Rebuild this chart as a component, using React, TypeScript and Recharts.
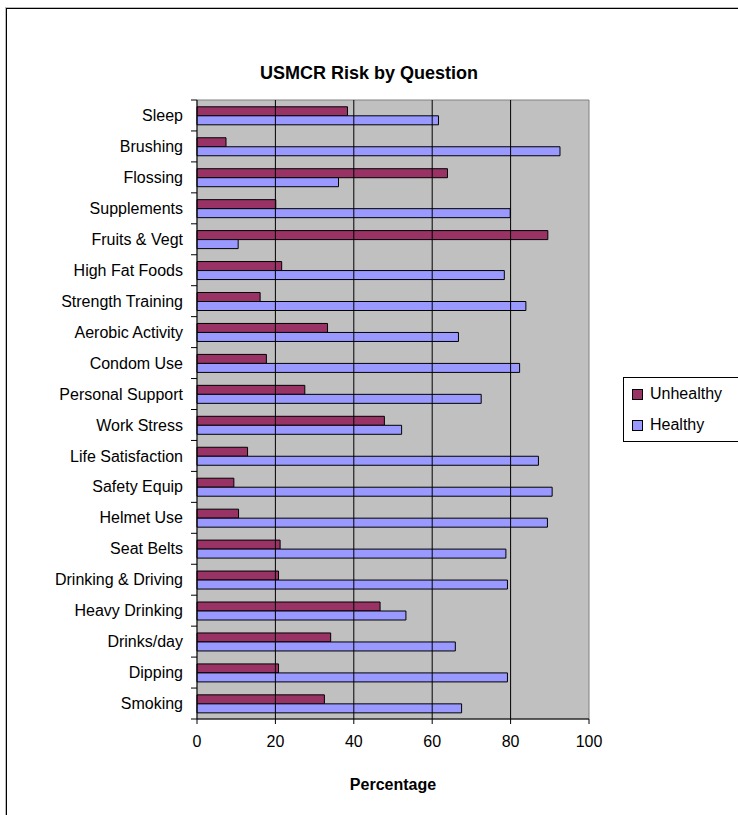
import React from 'react';
import { BarChart, Bar, XAxis, YAxis, CartesianGrid, ReferenceArea, ReferenceLine } from 'recharts';

const questions = [
  'Sleep', 'Brushing', 'Flossing', 'Supplements', 'Fruits & Vegt', 'High Fat Foods',
  'Strength Training', 'Aerobic Activity', 'Condom Use', 'Personal Support', 'Work Stress',
  'Life Satisfaction', 'Safety Equip', 'Helmet Use', 'Seat Belts', 'Drinking & Driving',
  'Heavy Drinking', 'Drinks/day', 'Dipping', 'Smoking',
];
const unhealthy = [38.4, 7.4, 63.9, 20.1, 89.5, 21.6, 16.1, 33.3, 17.7, 27.5, 47.8, 12.9, 9.4, 10.6, 21.2, 20.8, 46.7, 34.1, 20.8, 32.5];
const healthy = [61.6, 92.6, 36.1, 79.9, 10.5, 78.4, 83.9, 66.7, 82.3, 72.5, 52.2, 87.1, 90.6, 89.4, 78.8, 79.2, 53.3, 65.9, 79.2, 67.5];
const percentTicks = [0, 20, 40, 60, 80, 100];
const gridValues = [20, 40, 60, 80];

const SERIES = [
  { key: 'unhealthy', name: 'Unhealthy', color: '#993366' },
  { key: 'healthy', name: 'Healthy', color: '#9999FF' },
];

const data = questions.map((question, i) => ({
  question,
  unhealthy: unhealthy[i],
  healthy: healthy[i],
}));

const FONT = '"Liberation Sans", Arial, Helvetica, sans-serif';
const WIDTH = 738;
const HEIGHT = 815;
const MARGIN = { top: 100, right: 149, bottom: 0, left: 0 };
const Y_AXIS_W = 197;
const X_AXIS_H = 96;
const PLOT_H = HEIGHT - MARGIN.top - MARGIN.bottom - X_AXIS_H;
const BAND = PLOT_H / questions.length;
const LABEL_GAP = 14;

// Category label centred on its band, with Excel-style tick marks on the band edges.
function QuestionTick(props: any) {
  const { x, y, payload, index } = props;
  const axisX = x + LABEL_GAP;
  return (
    <g>
      <line x1={axisX - 6} x2={axisX} y1={y - BAND / 2} y2={y - BAND / 2} stroke="#000" />
      {index === questions.length - 1 && (
        <line x1={axisX - 6} x2={axisX} y1={y + BAND / 2} y2={y + BAND / 2} stroke="#000" />
      )}
      <text x={x} y={y} dy="0.35em" textAnchor="end" fill="#000" fontSize={16} fontFamily={FONT}>
        {payload.value}
      </text>
    </g>
  );
}

export default function App() {
  return (
    <div
      style={{
        position: 'absolute',
        left: 0,
        top: 0,
        width: WIDTH,
        height: HEIGHT,
        overflow: 'hidden',
        background: '#fff',
        fontFamily: FONT,
      }}
    >
      <div
        style={{
          position: 'absolute',
          left: 6,
          top: 8,
          width: 900,
          height: 1000,
          borderLeft: '1px solid #000',
          borderTop: '1px solid #000',
          boxShadow: '-1px -1px 0 #bbb',
        }}
      />
      <div
        style={{
          position: 'absolute',
          left: 0,
          width: WIDTH,
          top: 63,
          textAlign: 'center',
          fontSize: 18,
          fontWeight: 'bold',
          color: '#000',
        }}
      >
        USMCR Risk by Question
      </div>
      <div style={{ position: 'absolute', left: 0, top: 0 }}>
        <BarChart
          width={WIDTH}
          height={HEIGHT}
          data={data}
          layout="vertical"
          margin={MARGIN}
          barCategoryGap="22%"
          barGap={0}
        >
          <CartesianGrid horizontal={false} vertical={false} fill="#C0C0C0" fillOpacity={1} />
          {gridValues.map((v) => (
            <ReferenceLine key={v} x={v} stroke="#000" strokeWidth={1} />
          ))}
          <ReferenceArea x1={0} x2={100} fill="none" stroke="#808080" strokeWidth={1} />
          <XAxis
            type="number"
            domain={[0, 100]}
            ticks={percentTicks}
            height={X_AXIS_H}
            axisLine={{ stroke: '#000' }}
            tickLine={{ stroke: '#000' }}
            tickSize={5}
            tickMargin={12}
            tick={{ fill: '#000', fontSize: 16, fontFamily: FONT }}
            label={{
              value: 'Percentage',
              position: 'insideBottom',
              offset: 25,
              fill: '#000',
              fontSize: 16,
              fontWeight: 'bold',
              fontFamily: FONT,
            }}
          />
          <YAxis
            type="category"
            dataKey="question"
            width={Y_AXIS_W}
            interval={0}
            tickSize={0}
            tickMargin={LABEL_GAP}
            tickLine={false}
            axisLine={{ stroke: '#000' }}
            tick={<QuestionTick />}
          />
          {SERIES.map((s) => (
            <Bar
              key={s.key}
              dataKey={s.key}
              name={s.name}
              fill={s.color}
              stroke="#000"
              strokeWidth={1}
              isAnimationActive={false}
            />
          ))}
        </BarChart>
      </div>
      <div
        style={{
          position: 'absolute',
          left: 623,
          top: 377,
          width: 140,
          height: 63,
          border: '1px solid #000',
          background: '#fff',
        }}
      >
        {SERIES.map((s, i) => (
          <div
            key={s.key}
            style={{
              position: 'absolute',
              left: 8,
              top: 7 + i * 31,
              display: 'flex',
              alignItems: 'center',
              fontSize: 16,
              color: '#000',
              lineHeight: '18px',
            }}
          >
            <span
              style={{
                display: 'inline-block',
                width: 9,
                height: 9,
                border: '1px solid #000',
                background: s.color,
                marginRight: 7,
              }}
            />
            {s.name}
          </div>
        ))}
      </div>
    </div>
  );
}
